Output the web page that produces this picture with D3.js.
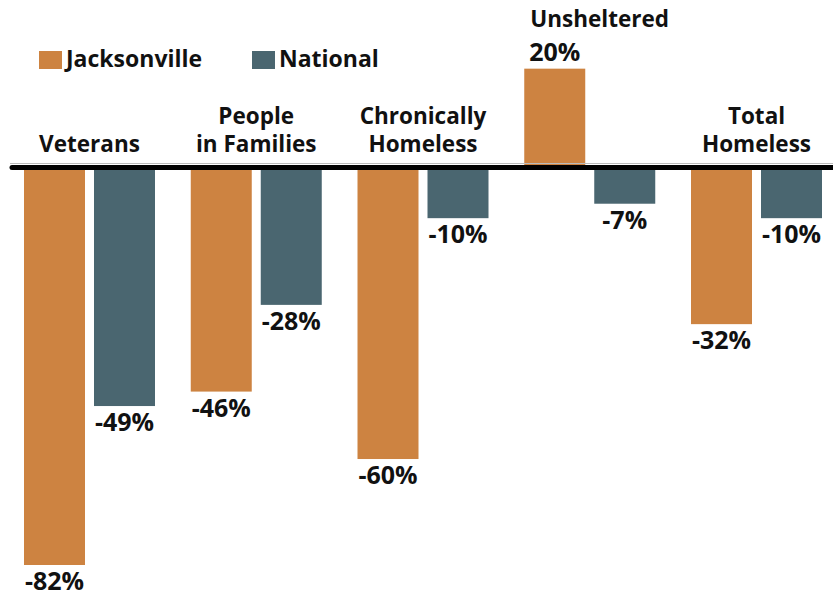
<!DOCTYPE html>
<html><head><meta charset="utf-8">
<script src="https://cdn.jsdelivr.net/npm/d3@7"></script>
<style>body{margin:0;background:#fff}text{font-family:"Open Sans",sans-serif;font-weight:700;fill:#111}</style>
</head><body><svg id="c" width="833" height="598"></svg>
<script>
const categories = ["Veterans", "People in Families", "Chronically Homeless", "Unsheltered", "Total Homeless"];
const categoryLines = [["Veterans"], ["People", "in Families"], ["Chronically", "Homeless"], ["Unsheltered"], ["Total", "Homeless"]];
const seriesNames = ["Jacksonville", "National"];
const jacksonville = [-82, -46, -60, 20, -32];
const national = [-49, -28, -10, -7, -10];
const colors = ["#CD8341", "#4A6670"];

const svg = d3.select("#c");
const x0 = d3.scaleBand().domain(categories).range([24, 822]).paddingInner(0.2144).paddingOuter(0);
const x1 = d3.scaleBand().domain(seriesNames).range([0, x0.bandwidth()]).paddingInner(9/70).paddingOuter(0);
const lineW = 5;
// negative bars hang from the bottom edge of the axis rule, positive bars rise from its top edge
const y = d3.scaleLinear().domain([-82, 0]).range([565, 170]);
const ySigned = v => v < 0 ? y(v) : y(v) - lineW;

const data = [];
categories.forEach((c, i) => {
  data.push({c, s: "Jacksonville", v: jacksonville[i], col: colors[0]});
  data.push({c, s: "National", v: national[i], col: colors[1]});
});

svg.selectAll("rect.bar").data(data).join("rect").attr("class", "bar")
  .attr("x", d => x0(d.c) + x1(d.s))
  .attr("width", x1.bandwidth())
  .attr("y", d => d.v < 0 ? y(0) - 1 : ySigned(d.v))
  .attr("height", d => d.v < 0 ? y(d.v) - y(0) + 1 : (y(0) - lineW) - ySigned(d.v) + 1)
  .attr("fill", d => d.col);

svg.append("line").attr("x1", 10).attr("x2", 833).attr("y1", y(0) - lineW - 1.5).attr("y2", y(0) - lineW - 1.5)
  .attr("stroke", "#bbb").attr("stroke-width", 1);
svg.append("line").attr("x1", 12).attr("x2", 833).attr("y1", y(0) - lineW / 2).attr("y2", y(0) - lineW / 2)
  .attr("stroke", "#000").attr("stroke-width", lineW).attr("stroke-linecap", "round");

svg.selectAll("text.val").data(data).join("text").attr("class", "val")
  .attr("x", d => x0(d.c) + x1(d.s) + x1.bandwidth() / 2)
  .attr("y", d => d.v < 0 ? ySigned(d.v) + 25 : ySigned(d.v) - 8)
  .attr("text-anchor", "middle").attr("font-size", 25)
  .text(d => d.v + "%");

categories.forEach((c, i) => {
  const lines = categoryLines[i];
  const isPos = jacksonville[i] > 0;
  const t = svg.append("text").attr("font-size", 22.5);
  if (isPos) {
    t.attr("text-anchor", "start");
    t.append("tspan").attr("x", x0(c) + x1("Jacksonville") + 6).attr("y", 27).text(lines[0]);
  } else {
    const cx = x0(c) + x0.bandwidth() / 2;
    t.attr("text-anchor", "middle");
    lines.forEach((l, k) => {
      t.append("tspan").attr("x", cx).attr("y", 152 - (lines.length - 1 - k) * 28).text(l);
    });
  }
});

const legX = [39, 252];
seriesNames.forEach((s, i) => {
  svg.append("rect").attr("x", legX[i]).attr("y", 51).attr("width", 23).attr("height", 18).attr("fill", colors[i]);
  svg.append("text").attr("x", legX[i] + 27).attr("y", 67).attr("font-size", 23).text(s);
});
</script></body></html>
